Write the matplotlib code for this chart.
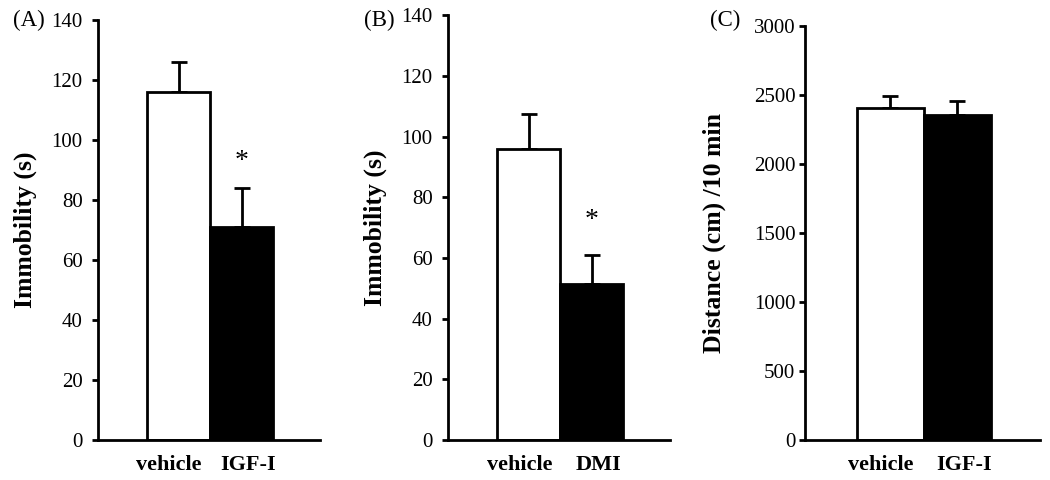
import matplotlib
matplotlib.use('Agg')
import matplotlib.pyplot as plt

plt.rcParams['font.family'] = ['Liberation Serif', 'DejaVu Serif']

# panel A: forced swim, IGF-I
a_groups = ['vehicle', 'IGF-I']
a_means = [116, 71]
a_sem = [10, 13]

# panel B: forced swim, DMI
b_groups = ['vehicle', 'DMI']
b_means = [96, 51.5]
b_sem = [11.5, 9.5]

# panel C: locomotor activity
c_groups = ['vehicle', 'IGF-I']
c_means = [2405, 2355]
c_sem = [90, 105]

fig = plt.figure(figsize=(10.5, 4.8), dpi=100)

# rect, tag, tag x (fig px), data, ylabel, ymax, step, star y, tick pad, label x
panels = [
    ([0.0933, 0.0833, 0.2114, 0.875], '(A)', 45, a_groups, a_means, a_sem,
     'Immobility (s)', 140, 20, 93, 7, -0.275),
    ([0.4267, 0.0833, 0.2114, 0.885], '(B)', 395, b_groups, b_means, b_sem,
     'Immobility (s)', 140, 20, 72.5, 7, -0.275),
    ([0.7667, 0.0833, 0.2238, 0.8625], '(C)', 740, c_groups, c_means, c_sem,
     'Distance (cm) /10 min', 3000, 500, None, 3, -0.335),
]

for (rect, tag, tagx, groups, means, sem, ylab, ymax, step, star,
     pad, labx) in panels:
    ax = fig.add_axes(rect)
    x = [0, 1]
    ax.bar(x, means, width=1.0, color=['white', 'black'],
           edgecolor='black', linewidth=2, zorder=2)
    ax.errorbar(x, means, yerr=[[0, 0], sem], fmt='none', ecolor='black',
                elinewidth=2, capsize=6, capthick=2, zorder=1)
    if star is not None:
        ax.text(1, star, '*', ha='center', va='center', fontsize=20)
    ax.set_xlim(-1.28, 2.24)
    ax.set_ylim(0, ymax)
    ax.set_yticks(range(0, ymax + 1, step))
    ax.set_xticks([-0.15, 1.1])
    ax.set_xticklabels(groups, fontsize=16, fontweight='bold')
    ax.tick_params(axis='x', length=0, pad=11)
    ax.tick_params(axis='y', length=4, width=2, labelsize=15, pad=pad)
    for s in ['top', 'right']:
        ax.spines[s].set_visible(False)
    for s in ['left', 'bottom']:
        ax.spines[s].set_linewidth(2)
    ax.set_ylabel(ylab, fontsize=18.5, fontweight='bold')
    ax.yaxis.set_label_coords(labx, 0.5)
    fig.text(tagx / 1050, 1 - 20 / 480, tag, ha='right', va='center',
             fontsize=16.5)

fig.savefig('out.png', dpi=100)
